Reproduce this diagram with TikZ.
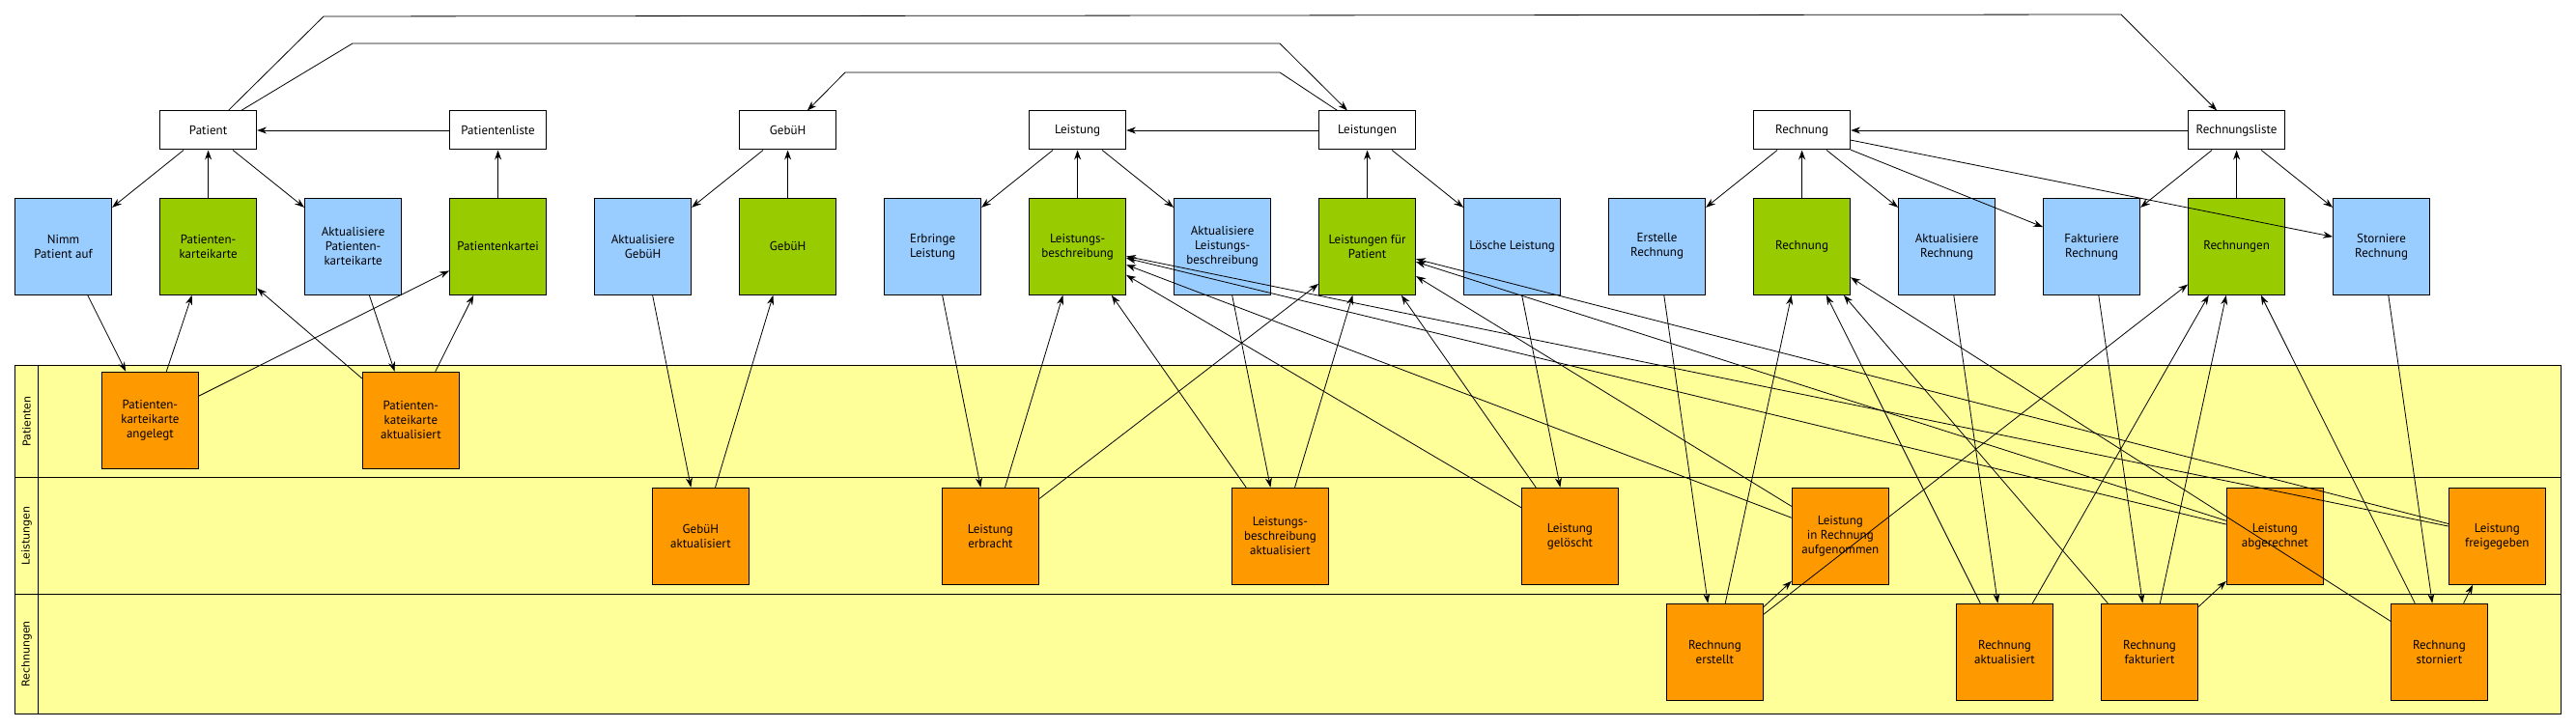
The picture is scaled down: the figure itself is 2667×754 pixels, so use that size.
\documentclass[tikz,border=0pt]{standalone}
\usepackage{fontspec}
\setmainfont{PT Sans}
\newfontfamily\lanefont{DejaVu Sans}
\usepackage{tikz}
\usetikzlibrary{arrows.meta}

\definecolor{cmdblue}{HTML}{99CCFF}
\definecolor{datagreen}{HTML}{99CC00}
\definecolor{eventorange}{HTML}{FF9900}
\definecolor{laneyellow}{HTML}{FFFF99}

\begin{document}
\begin{tikzpicture}[x=1pt, y=-1pt, font=\fontsize{13}{15}\selectfont]
        % Setup the styles for the boxes
        \tikzset{box style/.style={draw, rectangle,
                                   line width=1pt,
                                   align=center,
                                   inner sep=0pt,
                                   minimum width=100pt,
                                   minimum height=100pt},
                 list style/.style={box style, fill=white, minimum height=40pt},
                 cmd style/.style={box style, fill=cmdblue},
                 data style/.style={box style, fill=datagreen},
                 event style/.style={box style, fill=eventorange},
                 lane style/.style={draw, line width=1pt, fill=laneyellow},
                 lane label/.style={rotate=90, font=\lanefont\fontsize{11}{13}\selectfont},
                 link style/.style={line width=0.8pt},
                 >={Stealth[length=10pt, width=7pt]}}
        \useasboundingbox (0, 0) rectangle (2667, 754);

        % Draw the lanes
        \draw[lane style] (15.5, 378.5) rectangle (2651, 739.5);
        \draw[line width=1pt] (39.5, 378.5) -- (39.5, 739.5)
                              (15.5, 494.5) -- (2651, 494.5)
                              (15.5, 615.5) -- (2651, 615.5);
        \node[lane label] at (27.5, 436.5) (lanepatienten) {Patienten};
        \node[lane label] at (27.5, 555) (laneleistungen) {Leistungen};
        \node[lane label] at (27.5, 677.5) (lanerechnungen) {Rechnungen};

        % Draw the lists
        \node[list style] at (215.6, 135) (patient) {Patient};
        \node[list style] at (515.6, 135) (patientenliste) {Patientenliste};
        \node[list style] at (815.6, 135) (gebuehtop) {GebüH};
        \node[list style] at (1115.6, 135) (leistung) {Leistung};
        \node[list style] at (1415.6, 135) (leistungen) {Leistungen};
        \node[list style] at (1865.6, 135) (rechnung) {Rechnung};
        \node[list style] at (2315.6, 135) (rechnungsliste) {Rechnungsliste};

        % Draw the commands and the data
        \node[cmd style] at (65.6, 255.3) (nimm) {Nimm\\Patient auf};
        \node[data style] at (215.6, 255.3) (karteikarte) {Patienten-\\karteikarte};
        \node[cmd style] at (365.6, 255.3) (aktkarte) {Aktualisiere\\Patienten-\\karteikarte};
        \node[data style] at (515.6, 255.3) (kartei) {Patientenkartei};
        \node[cmd style] at (665.6, 255.3) (aktgebueh) {Aktualisiere\\GebüH};
        \node[data style] at (815.6, 255.3) (gebueh) {GebüH};
        \node[cmd style] at (965.6, 255.3) (erbringe) {Erbringe\\Leistung};
        \node[data style] at (1115.6, 255.3) (beschreibung) {Leistungs-\\beschreibung};
        \node[cmd style] at (1265.6, 255.3) (aktbeschreibung) {Aktualisiere\\Leistungs-\\beschreibung};
        \node[data style] at (1415.6, 255.3) (lfp) {Leistungen für\\Patient};
        \node[cmd style] at (1565.6, 255.3) (loesche) {Lösche Leistung};
        \node[cmd style] at (1715.6, 255.3) (erstelle) {Erstelle\\Rechnung};
        \node[data style] at (1865.6, 255.3) (rechnungdata) {Rechnung};
        \node[cmd style] at (2015.6, 255.3) (aktrechnung) {Aktualisiere\\Rechnung};
        \node[cmd style] at (2165.6, 255.3) (fakturiere) {Fakturiere\\Rechnung};
        \node[data style] at (2315.6, 255.3) (rechnungen) {Rechnungen};
        \node[cmd style] at (2465.6, 255.3) (storniere) {Storniere\\Rechnung};

        % Draw the events
        \node[event style] at (155.4, 435.3) (evangelegt) {Patienten-\\karteikarte\\angelegt};
        \node[event style] at (425.4, 435.3) (evkarteakt) {Patienten-\\kateikarte\\aktualisiert};
        \node[event style] at (725.4, 555.3) (evgebueh) {GebüH\\aktualisiert};
        \node[event style] at (1025.4, 555.3) (everbracht) {Leistung\\erbracht};
        \node[event style] at (1325.4, 555.3) (evbeschreibung) {Leistungs-\\beschreibung\\aktualisiert};
        \node[event style] at (1625.4, 555.3) (evgeloescht) {Leistung\\gelöscht};
        \node[event style] at (1905.3, 555.3) (evaufgenommen) {Leistung\\in Rechnung\\aufgenommen};
        \node[event style] at (2355.3, 555.3) (evabgerechnet) {Leistung\\abgerechnet};
        \node[event style] at (2585.3, 555.3) (evfreigegeben) {Leistung\\freigegeben};
        \node[event style] at (1775.4, 675.3) (everstellt) {Rechnung\\erstellt};
        \node[event style] at (2075.5, 675.3) (evrechakt) {Rechnung\\aktualisiert};
        \node[event style] at (2225.5, 675.3) (evfakturiert) {Rechnung\\fakturiert};
        \node[event style] at (2525.4, 675.3) (evstorniert) {Rechnung\\storniert};

        % Bends of the long links
        \coordinate (bend1) at (335, 17);
        \coordinate (bend2) at (2196, 15);
        \coordinate (bend3) at (365, 45);
        \coordinate (bend4) at (1325, 45);
        \coordinate (bend5) at (1325, 75);
        \coordinate (bend6) at (875, 75);

        % Connect the lists, commands and data
        \draw[->, link style]
              (patientenliste) edge (patient)
              (leistungen)     edge (leistung)
              (rechnungsliste) edge (rechnung)
              (patient)        edge (nimm)
              (karteikarte)    edge (patient)
              (patient)        edge (aktkarte)
              (kartei)         edge (patientenliste)
              (gebuehtop)      edge (aktgebueh)
              (gebueh)         edge (gebuehtop)
              (leistung)       edge (erbringe)
              (beschreibung)   edge (leistung)
              (leistung)       edge (aktbeschreibung)
              (lfp)            edge (leistungen)
              (leistungen)     edge (loesche)
              (rechnung)       edge (erstelle)
              (rechnungdata)   edge (rechnung)
              (rechnung)       edge (aktrechnung)
              (rechnung)       edge (fakturiere)
              (rechnung)       edge (storniere)
              (rechnungsliste) edge (fakturiere)
              (rechnungen)     edge (rechnungsliste)
              (rechnungsliste) edge (storniere);
        \draw[->, link style] (patient) -- (bend1) -- (bend2) -- (rechnungsliste);
        \draw[->, link style] (patient) -- (bend3) -- (bend4) -- (leistungen);
        \draw[->, link style] (leistungen) -- (bend5) -- (bend6) -- (gebuehtop);

        % Connect the commands with the events
        \draw[->, link style]
              (nimm)            edge (evangelegt)
              (aktkarte)        edge (evkarteakt)
              (aktgebueh)       edge (evgebueh)
              (erbringe)        edge (everbracht)
              (aktbeschreibung) edge (evbeschreibung)
              (loesche)         edge (evgeloescht)
              (erstelle)        edge (everstellt)
              (aktrechnung)     edge (evrechakt)
              (fakturiere)      edge (evfakturiert)
              (storniere)       edge (evstorniert);

        % Connect the events with the data
        \draw[->, link style]
              (evangelegt)     edge (karteikarte)
              (evangelegt)     edge (kartei)
              (evkarteakt)     edge (karteikarte)
              (evkarteakt)     edge (kartei)
              (evgebueh)       edge (gebueh)
              (everbracht)     edge (beschreibung)
              (everbracht)     edge (lfp)
              (evbeschreibung) edge (beschreibung)
              (evbeschreibung) edge (lfp)
              (evgeloescht)    edge (beschreibung)
              (evgeloescht)    edge (lfp)
              (evaufgenommen)  edge (beschreibung)
              (evaufgenommen)  edge (lfp)
              (evabgerechnet)  edge (beschreibung)
              (evabgerechnet)  edge (lfp)
              (evfreigegeben)  edge (beschreibung)
              (evfreigegeben)  edge (lfp)
              (everstellt)     edge (rechnungdata)
              (everstellt)     edge (evaufgenommen)
              (everstellt)     edge (rechnungen)
              (evrechakt)      edge (rechnungdata)
              (evrechakt)      edge (rechnungen)
              (evfakturiert)   edge (rechnungdata)
              (evfakturiert)   edge (rechnungen)
              (evfakturiert)   edge (evabgerechnet)
              (evstorniert)    edge (rechnungdata)
              (evstorniert)    edge (rechnungen)
              (evstorniert)    edge (evfreigegeben);
\end{tikzpicture}
\end{document}
